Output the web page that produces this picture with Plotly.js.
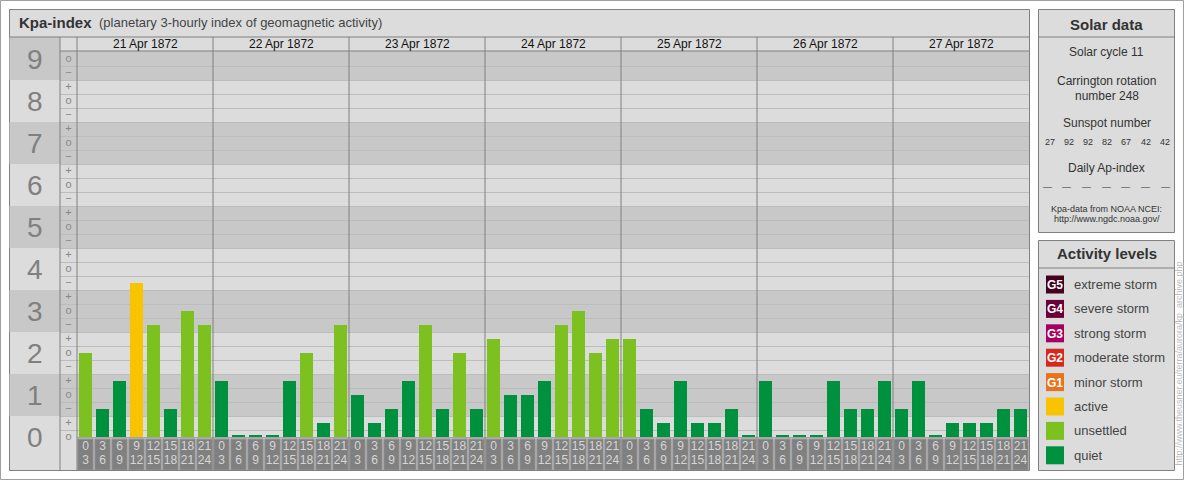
<!DOCTYPE html>
<html><head><meta charset="utf-8">
<script src="https://cdn.plot.ly/plotly-3.0.1.min.js"></script>
<style>html,body{margin:0;padding:0;background:#fff;} #chart{width:1184px;height:480px;}</style>
</head><body><div id="chart"></div>
<script>
// ---------------- data ----------------
const days = ['21 Apr 1872','22 Apr 1872','23 Apr 1872','24 Apr 1872','25 Apr 1872','26 Apr 1872','27 Apr 1872'];
const kpApr21 = ['2o','1-','1+','4-','3-','1-','3o','3-'];
const kpApr22 = ['1+','0o','0o','0o','1+','2o','0+','3-'];
const kpApr23 = ['1o','0+','1-','1+','3-','1-','2o','1-'];
const kpApr24 = ['2+','1o','1o','1+','3-','3o','2o','2+'];
const kpApr25 = ['2+','1-','0+','1+','0+','0+','1-','0o'];
const kpApr26 = ['1+','0o','0o','0o','1+','1-','1-','1+'];
const kpApr27 = ['1-','1+','0o','0+','0+','0+','1-','1-'];
const hourStart = [0,3,6,9,12,15,18,21];
const hourEnd = [3,6,9,12,15,18,21,24];
const kpLevels = [0,1,2,3,4,5,6,7,8,9];
const subLabels = ['\u2212','o','+'];
const solarCycle = 11;
const carringtonRotation = 248;
const sunspotNumbers = [27,92,92,82,67,42,42];
const dailyAp = ['\u2014','\u2014','\u2014','\u2014','\u2014','\u2014','\u2014'];
const levelNames = ['extreme storm','severe storm','strong storm','moderate storm','minor storm','active','unsettled','quiet'];
const levelBadges = ['G5','G4','G3','G2','G1','','',''];
const levelColors = ['#46001f','#6a0035','#a8005e','#d7281d','#e8731b','#f8c300','#7cc11f','#00913f'];

// ---------------- helpers ----------------
const FONT = 'Liberation Sans, Arial, sans-serif';
const L = 60, R = 1029, T = 51, B = 470;
const X0 = -1.5, X1 = 55.5;
const Y0 = -33/42, Y1 = (437-51)/42;
const px = p => (p - L) / (R - L);
const py = p => (B - p) / (B - T);
const xd = v => (v - X0) / (X1 - X0);
const LIGHT = '#dcdcdc', DARK = '#c8c8c8', EDGE = '#808080';

function kpValue(s) {
  const base = parseInt(s[0], 10);
  const m = s[1];
  return base + (m === '-' ? -1/3 : (m === '+' ? 1/3 : 0));
}
function kpColor(v) {
  const r = Math.round(v);
  if (r <= 1) return levelColors[7];
  if (r <= 3) return levelColors[6];
  return levelColors[9 - r];
}

const allKp = [].concat(kpApr21, kpApr22, kpApr23, kpApr24, kpApr25, kpApr26, kpApr27);
const kpVals = allKp.map(kpValue);
const idx = kpVals.map((_, i) => i);
const hs = idx.map(i => hourStart[i % 8]);
const he = idx.map(i => hourEnd[i % 8]);

const shapes = [];
const annotations = [];
function rectP(x0, y0, x1, y1, fill, line, layer) {
  shapes.push({type:'rect', xref:'paper', yref:'paper', x0:px(x0), x1:px(x1), y0:py(y0), y1:py(y1),
    fillcolor: fill || 'rgba(0,0,0,0)', line:{color: line || 'rgba(0,0,0,0)', width: line ? 1 : 0}, layer: layer || 'below'});
}
function lineP(x0, y0, x1, y1, color, layer) {
  shapes.push({type:'line', xref:'paper', yref:'paper', x0:px(x0), x1:px(x1), y0:py(y0), y1:py(y1),
    line:{color: color || EDGE, width:1}, layer: layer || 'above'});
}
function text(x, y, t, size, color, opts) {
  annotations.push(Object.assign({xref:'paper', yref:'paper', x:px(x), y:py(y), text:t, showarrow:false,
    font:{family:FONT, size:size, color:color}, xanchor:'center', yanchor:'middle'}, opts || {}));
}

// page border
rectP(0.5, 0.5, 1183.5, 479.5, '#ffffff', '#a0a0a0');
// main frame
rectP(9.5, 9.5, 1029.5, 470.5, LIGHT, EDGE);
// number-column bands (odd levels dark)
kpLevels.forEach(n => {
  if (n % 2 === 1) {
    const top = n === 9 ? 37 : 437 - 42*(n + 0.5);
    rectP(9.5, top, 60, 437 - 42*(n - 0.5), DARK, null);
  }
});
// plot-area bands (data referenced)
kpLevels.forEach(n => {
  if (n % 2 === 1) {
    shapes.push({type:'rect', xref:'x', yref:'y', x0:X0, x1:X1, y0:n-0.5, y1:n+0.5,
      fillcolor:DARK, line:{width:0}, layer:'below'});
  }
});
// hour label boxes
idx.forEach(i => {
  shapes.push({type:'rect', xref:'x', yref:'y', x0:i-0.45, x1:i+0.45, y0:-0.05, y1:Y0,
    fillcolor:'#808080', line:{color:'#929292', width:1}, layer:'below'});
});
// structural lines
lineP(9.5, 37, 1029.5, 37);
lineP(60, 51, 1029.5, 51);
lineP(60, 37, 60, 470.5);
shapes.push({type:'line', xref:'paper', yref:'paper', x0:xd(-0.5), x1:xd(-0.5), y0:py(37), y1:py(470.5), line:{color:EDGE,width:1}, layer:'above'});
days.forEach((d, k) => {
  if (k > 0) shapes.push({type:'line', xref:'paper', yref:'paper', x0:xd(8*k-0.5), x1:xd(8*k-0.5), y0:py(37), y1:py(470.5), line:{color:EDGE,width:1}, layer:'above'});
});
shapes.push({type:'line', xref:'paper', yref:'y', x0:xd(-0.5), x1:1, y0:-0.02, y1:-0.02, line:{color:'#8a8a8a',width:1}, layer:'above'});

// title
text(17, 23, '<b>Kpa-index</b>', 15, '#333', {xanchor:'left'});
text(97, 23, '(planetary 3-hourly index of geomagnetic activity)', 13, '#444', {xanchor:'left'});
// day headers
days.forEach((d, k) => {
  annotations.push({xref:'x', yref:'paper', x:8*k+3.5, y:py(44.5), text:d, showarrow:false,
    font:{family:FONT, size:12, color:'#111'}, xanchor:'center', yanchor:'middle'});
});
// big level numbers
kpLevels.forEach(n => {
  annotations.push({xref:'paper', yref:'y', x:px(34.5), y:n, text:String(n), showarrow:false,
    font:{family:FONT, size:28, color:'#808080'}, xanchor:'center', yanchor:'middle'});
});

// ---------------- right panels ----------------
rectP(1038.5, 9.5, 1174.5, 232.5, LIGHT, EDGE);
lineP(1038.5, 37, 1174.5, 37);
text(1106.5, 24, '<b>Solar data</b>', 15, '#333');
text(1106.5, 52, 'Solar cycle ' + solarCycle, 12, '#333');
text(1106.5, 81, 'Carrington rotation', 12, '#333');
text(1106.5, 96, 'number ' + carringtonRotation, 12, '#333');
text(1106.5, 123, 'Sunspot number', 12, '#333');
sunspotNumbers.forEach((s, k) => text(1049.5 + k*19.2, 141.5, String(s), 9, '#333'));
text(1106.5, 168, 'Daily Ap-index', 12, '#333');
dailyAp.forEach((s, k) => text(1047 + k*19.7, 187, s, 9, '#333'));
text(1106.5, 209, 'Kpa-data from NOAA NCEI:', 9, '#333');
text(1106.5, 219, 'http://www.ngdc.noaa.gov/', 9, '#333');

rectP(1038.5, 240.5, 1174.5, 470.5, LIGHT, EDGE);
lineP(1038.5, 268, 1174.5, 268);
text(1106.5, 254, '<b>Activity levels</b>', 15, '#333');
levelNames.forEach((name, k) => {
  const cy = 284.5 + k*24.4;
  rectP(1046, cy - 9, 1064, cy + 9, levelColors[k], null, 'above');
  if (levelBadges[k]) text(1055, cy + 0.5, '<b>' + levelBadges[k] + '</b>', 12, '#ffffff');
  text(1072, cy, name, 13, '#444', {xanchor:'left'});
});
text(1178.5, 364, 'http://www.theusner.eu/terra/aurora/kp_archive.php', 9, '#bdbdbd', {textangle:-90});

// ---------------- traces ----------------
const subX = [], subY = [], subT = [];
kpLevels.forEach(n => {
  [-1, 0, 1].forEach(o => {
    const v = n + o/3;
    if (v >= 0 && v <= 9) { subX.push(-1); subY.push(v); subT.push(subLabels[o+1]); }
  });
});

const traces = [
  {type:'bar', x:idx, y:kpVals.map(v => Math.max(v, 0.05)), width:0.82,
   marker:{color:kpVals.map(kpColor), line:{width:0}}, hoverinfo:'skip', showlegend:false},
  {type:'scatter', mode:'text', x:subX, y:subY, text:subT, cliponaxis:false,
   textfont:{family:FONT, size:11, color:'#888'}, hoverinfo:'skip', showlegend:false},
  {type:'scatter', mode:'text', x:idx, y:idx.map(() => -10/42), text:hs.map(String), cliponaxis:false,
   textfont:{family:FONT, size:12, color:'#d6d6d6'}, hoverinfo:'skip', showlegend:false},
  {type:'scatter', mode:'text', x:idx, y:idx.map(() => -24/42), text:he.map(String), cliponaxis:false,
   textfont:{family:FONT, size:12, color:'#d6d6d6'}, hoverinfo:'skip', showlegend:false}
];

const gridVals = [];
for (let k = 0; k < 27; k++) gridVals.push(k/3 + 1/6);

const layout = {
  width:1184, height:480,
  margin:{l:L, r:1184-R, t:T, b:480-B, pad:0},
  paper_bgcolor:'#ffffff', plot_bgcolor:'rgba(0,0,0,0)',
  showlegend:false, bargap:0,
  xaxis:{range:[X0, X1], showgrid:false, zeroline:false, showticklabels:false, ticks:'', fixedrange:true, showline:false},
  yaxis:{range:[Y0, Y1], tickmode:'array', tickvals:gridVals, showgrid:true, gridcolor:'#bdbdbd', gridwidth:1,
         zeroline:false, showticklabels:false, ticks:'', fixedrange:true, showline:false},
  shapes:shapes, annotations:annotations,
  font:{family:FONT}
};

Plotly.newPlot('chart', traces, layout, {displayModeBar:false, staticPlot:true});
</script></body></html>
